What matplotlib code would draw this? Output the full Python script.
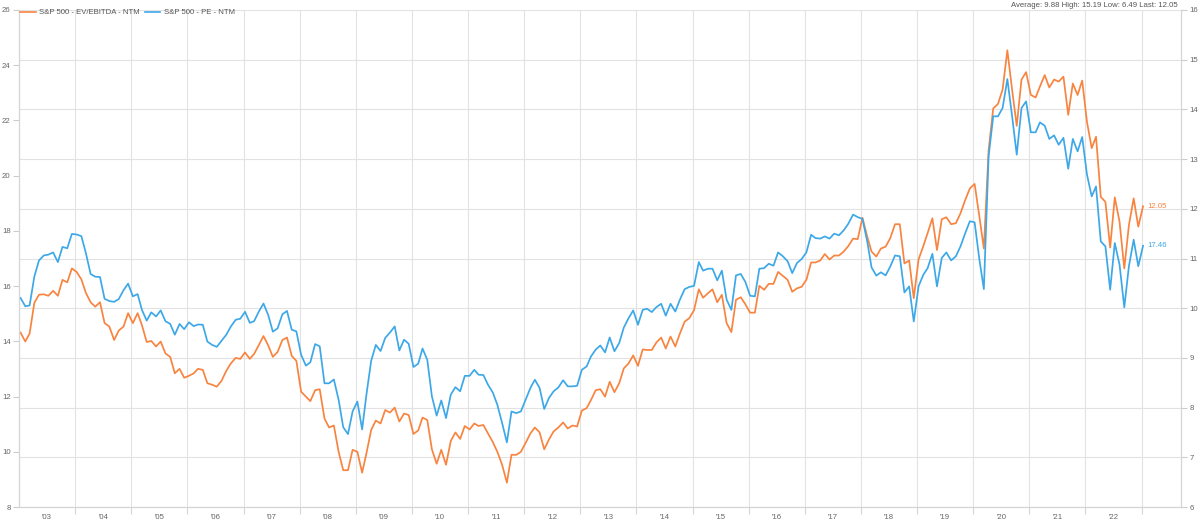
import matplotlib
matplotlib.use("Agg")
import matplotlib.pyplot as plt
import matplotlib.dates as mdates
from matplotlib.ticker import FixedLocator, FixedFormatter, NullFormatter
from matplotlib.lines import Line2D
import pandas as pd
import datetime as dt

# S&P 500 forward P/E (left axis), monthly from Jan 2003
pe_ntm = [
    15.57, 15.27, 15.30, 16.35, 16.93, 17.11, 17.14, 17.22, 16.87, 17.42, 17.37, 17.89,
    17.87, 17.81, 17.20, 16.44, 16.34, 16.33, 15.54, 15.46, 15.43, 15.53, 15.85, 16.09,
    15.63, 15.71, 15.14, 14.75, 15.05, 14.90, 15.12, 14.73, 14.63, 14.24, 14.63, 14.44,
    14.69, 14.55, 14.61, 14.60, 13.99,
    13.87, 13.80, 14.02, 14.24, 14.54, 14.78, 14.82, 15.07, 14.67, 14.73,
    15.08, 15.37, 14.95, 14.35, 14.47, 14.98, 15.10, 14.42, 14.36, 13.51,
    13.12, 13.24, 13.90, 13.82, 12.48, 12.48, 12.62, 11.88, 10.89, 10.64,
    11.46, 11.82, 10.81, 12.07, 13.30, 13.87, 13.65, 14.12, 14.32, 14.54,
    13.67, 14.06, 13.91, 13.07, 13.19, 13.74, 13.33, 12.01, 11.31, 11.86,
    11.22, 12.07, 12.34, 12.19, 12.75, 12.75, 12.97, 12.79, 12.78, 12.43,
    12.15, 11.70, 11.04, 10.34, 11.46, 11.40, 11.46, 11.88, 12.31, 12.61,
    12.31, 11.55, 11.95, 12.19, 12.33, 12.59, 12.37, 12.37, 12.39,
    12.97, 13.09, 13.45, 13.70, 13.85, 13.60, 14.14, 13.64, 13.94, 14.50,
    14.84, 15.12, 14.60, 15.14, 15.18, 15.06, 15.24, 15.36, 14.93, 15.36,
    15.08, 15.51, 15.89, 15.97, 16.01, 16.87, 16.56, 16.63, 16.63, 16.21,
    16.56, 15.51, 15.14, 16.39, 16.44, 16.15, 15.65, 15.63, 16.63,
    16.65, 16.81, 16.74, 17.22, 17.08, 16.90, 16.47, 16.84, 16.98, 17.22,
    17.86, 17.74, 17.72, 17.80, 17.72, 17.90, 17.84, 18.02, 18.26, 18.59,
    18.50, 18.43, 17.62, 16.68, 16.38, 16.50, 16.39, 16.71, 17.11, 17.08,
    15.77, 15.99, 14.72, 15.99, 16.41, 16.65, 17.17, 15.99, 17.02, 17.22,
    16.93, 17.08,
    17.44, 17.92, 18.35, 18.31, 16.96, 15.89, 20.70, 22.15, 22.15, 22.45,
    23.50, 22.15, 20.76, 22.45, 22.69, 21.57, 21.57, 21.93, 21.81, 21.33,
    21.46, 21.12, 21.37, 20.25, 21.33, 20.88, 21.40, 20.04, 19.25, 19.61,
    17.62, 17.44, 15.87, 17.56, 16.78, 15.23, 16.72, 17.68, 16.72, 17.46,
]

# S&P 500 forward EV/EBITDA (right axis), monthly from Jan 2003
ev_ebitda_ntm = [
    9.51, 9.33, 9.49, 10.11, 10.27, 10.28, 10.25, 10.35, 10.25, 10.57, 10.52, 10.80,
    10.73, 10.58, 10.31, 10.12, 10.03, 10.12, 9.70, 9.63, 9.36, 9.55, 9.63, 9.90,
    9.70, 9.90, 9.66, 9.32, 9.34, 9.23, 9.33, 9.09, 9.02, 8.69, 8.78, 8.60,
    8.64, 8.69, 8.78, 8.76, 8.49,
    8.46, 8.42, 8.54, 8.74, 8.89, 9.00, 8.98, 9.11, 8.98, 9.08,
    9.26, 9.44, 9.25, 9.02, 9.12, 9.36, 9.41, 9.04, 8.94, 8.32,
    8.22, 8.13, 8.35, 8.37, 7.78, 7.60, 7.64, 7.11, 6.74, 6.74,
    7.15, 7.11, 6.69, 7.08, 7.55, 7.74, 7.68, 7.95, 7.90, 8.00,
    7.72, 7.88, 7.85, 7.47, 7.54, 7.80, 7.75, 7.16, 6.87, 7.15,
    6.85, 7.33, 7.50, 7.37, 7.63, 7.56, 7.68, 7.63, 7.65, 7.48,
    7.31, 7.11, 6.85, 6.49, 7.05, 7.05, 7.11, 7.29, 7.48, 7.60,
    7.50, 7.16, 7.36, 7.52, 7.60, 7.70, 7.58, 7.64, 7.62,
    7.94, 7.99, 8.15, 8.35, 8.37, 8.22, 8.52, 8.31, 8.49, 8.79,
    8.89, 9.05, 8.84, 9.17, 9.16, 9.16, 9.31, 9.41, 9.19, 9.43,
    9.23, 9.49, 9.73, 9.80, 9.96, 10.38, 10.21, 10.30, 10.38, 10.12,
    10.27, 9.70, 9.52, 10.17, 10.22, 10.08, 9.91, 9.91, 10.45,
    10.37, 10.49, 10.49, 10.73, 10.65, 10.57, 10.33, 10.40, 10.43, 10.57,
    10.92, 10.92, 10.96, 11.09, 10.98, 11.06, 11.06, 11.14, 11.25, 11.40,
    11.39, 11.82, 11.44, 11.14, 11.04, 11.20, 11.24, 11.41, 11.69, 11.69,
    10.90, 10.96, 10.20, 10.98, 11.25, 11.51, 11.81, 11.17, 11.79, 11.83,
    11.69, 11.71,
    11.91, 12.18, 12.41, 12.50, 11.84, 11.20, 13.18, 14.02, 14.11, 14.40,
    15.19, 14.39, 13.67, 14.60, 14.75, 14.29, 14.24, 14.46, 14.69, 14.44,
    14.60, 14.56, 14.66, 13.89, 14.52, 14.29, 14.58, 13.75, 13.22, 13.45,
    12.24, 12.14, 11.22, 12.23, 11.74, 10.80, 11.67, 12.21, 11.64, 12.05,
]

series_names = ["S&P 500 - EV/EBITDA - NTM", "S&P 500 - PE - NTM"]
years = list(range(2003, 2023))
year_labels = ["'" + f"{y % 100:02d}" for y in years]
left_ticks = list(range(8, 27, 2))
right_ticks = list(range(6, 17))
stats_text = "Average: 9.88 High: 15.19 Low: 6.49 Last: 12.05"

ORANGE = "#F8843F"
BLUE = "#3DA8E8"
GRID = "#e2e2e2"
TXT = "#666666"
FS = 5.6

dates = pd.date_range("2003-01-01", periods=len(pe_ntm), freq="MS") + pd.Timedelta(days=10)

plt.rcParams["font.family"] = ["Liberation Sans", "DejaVu Sans"]

fig = plt.figure(figsize=(12, 5.26), dpi=100)
ax = fig.add_axes([19 / 1200, 19 / 526, 1162 / 1200, 497 / 526])
ax2 = ax.twinx()

ax.plot(dates, ev_ebitda_ntm, color=ORANGE, lw=1.25, solid_joinstyle="round")
ax2.plot(dates, pe_ntm, color=BLUE, lw=1.25, solid_joinstyle="round")

# right axis (EV/EBITDA) on ax, left axis (PE) on ax2
ax.set_ylim(6, 16)
ax.set_yticks(right_ticks)
ax.yaxis.tick_right()
ax2.set_ylim(8, 26)
ax2.set_yticks(left_ticks)
ax2.yaxis.tick_left()

for a in (ax, ax2):
    a.tick_params(axis="y", length=4, width=0.8, color="#cccccc",
                  labelsize=FS, labelcolor=TXT, pad=2)
    for s in ("top",):
        a.spines[s].set_visible(False)
    for s in ("left", "right", "bottom"):
        a.spines[s].set_color("#d5d5d5")
        a.spines[s].set_linewidth(0.8)

ax.grid(axis="y", color=GRID, lw=0.8)
ax.set_axisbelow(True)

ax.set_xlim(dt.date(2003, 1, 1), dt.date(2023, 9, 15))
major = [mdates.date2num(dt.date(y + 1, 1, 1)) for y in years]
minor = [mdates.date2num(dt.date(y, 7, 2)) for y in years]
ax.xaxis.set_major_locator(FixedLocator(major))
ax.xaxis.set_major_formatter(NullFormatter())
ax.xaxis.set_minor_locator(FixedLocator(minor))
ax.xaxis.set_minor_formatter(FixedFormatter(year_labels))
ax.tick_params(axis="x", which="major", length=5, width=0.8, color="#d5d5d5")
ax.tick_params(axis="x", which="minor", length=0, labelsize=FS, labelcolor=TXT, pad=5)
ax.grid(axis="x", which="major", color=GRID, lw=0.8)

# last value labels
ax.annotate(f"{ev_ebitda_ntm[-1]:.2f}", xy=(dates[-1], ev_ebitda_ntm[-1]),
            xytext=(3, 0), textcoords="offset points", va="center",
            color=ORANGE, fontsize=FS)
ax2.annotate(f"{pe_ntm[-1]:.2f}", xy=(dates[-1], pe_ntm[-1]),
             xytext=(3, 0), textcoords="offset points", va="center",
             color=BLUE, fontsize=FS)

handles = [Line2D([], [], color=ORANGE, lw=1.2), Line2D([], [], color=BLUE, lw=1.2)]
fig.legend(handles, series_names, loc="upper left",
           bbox_to_anchor=(20 / 1200, 1 - 9 / 526), ncol=2, frameon=False,
           fontsize=FS, labelcolor="#555555", handlelength=2.0, handletextpad=0.5,
           columnspacing=0.6, borderpad=0, borderaxespad=0)

fig.text(1178 / 1200, 1 - 5.5 / 526, stats_text, ha="right", va="center",
         fontsize=FS, color="#555555")

fig.savefig("out.png", dpi=100)
